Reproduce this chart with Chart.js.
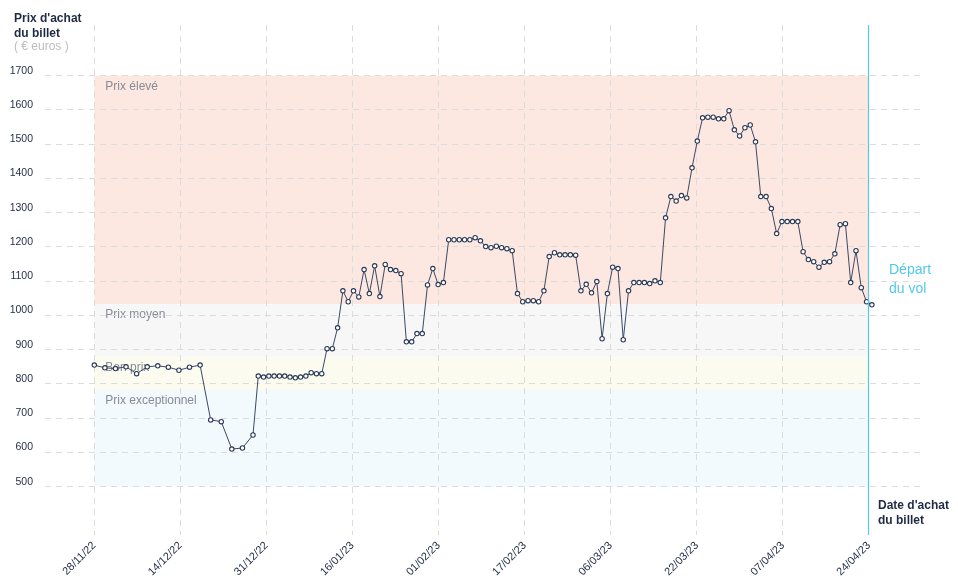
<!DOCTYPE html>
<html>
<head>
<meta charset="utf-8">
<script src="https://cdn.jsdelivr.net/npm/chart.js@4.4.1/dist/chart.umd.min.js"></script>
<style>
html,body{margin:0;padding:0;background:#fff;}
#wrap{width:958px;height:585px;position:relative;}
</style>
</head>
<body>
<div id="wrap"><canvas id="c" width="958" height="585"></canvas></div>
<script>
// ---- data ----
const purchaseDates = [
  '28/11/22','30/11/22','02/12/22','04/12/22','06/12/22','08/12/22','10/12/22','12/12/22',
  '14/12/22','16/12/22','18/12/22','20/12/22','22/12/22','24/12/22','26/12/22','28/12/22',
  '29/12/22','30/12/22','31/12/22',
  '01/01/23','02/01/23','03/01/23','04/01/23','05/01/23','06/01/23','07/01/23','08/01/23','09/01/23','10/01/23',
  '11/01/23','12/01/23','13/01/23','14/01/23','15/01/23','16/01/23','17/01/23','18/01/23','19/01/23','20/01/23',
  '21/01/23','22/01/23','23/01/23','24/01/23','25/01/23','26/01/23','27/01/23','28/01/23','29/01/23','30/01/23','31/01/23',
  '01/02/23','02/02/23','03/02/23','04/02/23','05/02/23','06/02/23','07/02/23','08/02/23','09/02/23','10/02/23',
  '11/02/23','12/02/23','13/02/23','14/02/23','15/02/23','16/02/23','17/02/23','18/02/23','19/02/23','20/02/23',
  '21/02/23','22/02/23','23/02/23','24/02/23','25/02/23','26/02/23','27/02/23','28/02/23',
  '01/03/23','02/03/23','03/03/23','04/03/23','05/03/23','06/03/23','07/03/23','08/03/23','09/03/23','10/03/23',
  '11/03/23','12/03/23','13/03/23','14/03/23','15/03/23','16/03/23','17/03/23','18/03/23','19/03/23','20/03/23',
  '21/03/23','22/03/23','23/03/23','24/03/23','25/03/23','26/03/23','27/03/23','28/03/23','29/03/23','30/03/23','31/03/23',
  '01/04/23','02/04/23','03/04/23','04/04/23','05/04/23','06/04/23','07/04/23','08/04/23','09/04/23','10/04/23',
  '11/04/23','12/04/23','13/04/23','14/04/23','15/04/23','16/04/23','17/04/23','18/04/23','19/04/23','20/04/23',
  '21/04/23','22/04/23','23/04/23','24/04/23'
];
const ticketPrices = [
  855,847,845,850,830,850,853,849,840,849,855,695,690,610,613,651,
  823,820,823,823,823,823,820,818,820,823,833,830,830,
  903,903,964,1072,1040,1072,1054,1134,1064,1145,1055,1149,1134,1131,1122,
  923,923,947,947,1089,1137,1090,1096,
  1221,1221,1221,1221,1221,1227,1218,1201,1198,1202,1198,1195,1189,
  1064,1040,1043,1043,1040,1072,1172,1183,1177,1177,1177,1176,
  1072,1091,1066,1099,932,1064,1141,1137,929,1072,1096,1096,1096,1093,1101,1096,
  1285,1347,1334,1350,1343,1431,1509,1577,1579,1579,1574,1574,1598,1542,1524,1548,1556,1507,
  1347,1347,1312,1239,1274,1274,1274,1274,1186,1163,1157,1141,1155,1157,1180,1265,1268,1096,1189,1081,1040,1031
];
const xTickLabels = ['28/11/22','14/12/22','31/12/22','16/01/23','01/02/23','17/02/23','06/03/23','22/03/23','07/04/23','24/04/23'];
const yTickValues = [500,600,700,800,900,1000,1100,1200,1300,1400,1500,1600,1700];
const bandNames = ['Prix élevé','Prix moyen','Bon prix','Prix exceptionnel'];
const bandUpper = [1700,1033,880,782];
const bandLower = [1033,880,782,500];
const departureDate = '23/04/23';
const departureHour = 11;

// ---- styles ----
const bandColors = ['#fde7e1','#f7f7f7','#fbfbf0','#f2fafd'];
const NAVY = '#1f2b44';
const CYAN = '#52c8ee';
const FONT = '"Liberation Sans", Arial, sans-serif';

function dayOffset(s, hour){
  const p = s.split('/');
  const t = Date.UTC(2000 + (+p[2]), (+p[1]) - 1, +p[0], hour || 0);
  return (t - Date.UTC(2022, 10, 28)) / 86400000;
}
const points = purchaseDates.map((d, i) => ({x: dayOffset(d), y: ticketPrices[i]}));
const depX = dayOffset(departureDate, departureHour);
const xTickPos = xTickLabels.map((_, i) => i * depX / (xTickLabels.length - 1));

const decor = {
  id: 'decor',
  beforeDraw(chart){
    const {ctx, scales:{x, y}} = chart;
    const x0 = x.getPixelForValue(0), x1 = x.getPixelForValue(depX);
    ctx.save();
    bandNames.forEach((n, i) => {
      const top = y.getPixelForValue(bandUpper[i]);
      const bot = y.getPixelForValue(bandLower[i]);
      ctx.fillStyle = bandColors[i];
      ctx.fillRect(x0, top, x1 - x0, bot - top);
    });
    ctx.font = '12px ' + FONT;
    ctx.fillStyle = '#878c96';
    ctx.textBaseline = 'middle';
    ctx.textAlign = 'left';
    bandNames.forEach((n, i) => {
      const top = y.getPixelForValue(bandUpper[i]);
      ctx.fillText(n, x0 + 11, top + 11);
    });
    ctx.restore();
  },
  afterDraw(chart){
    const {ctx, chartArea, scales:{x}} = chart;
    const px = Math.round(x.getPixelForValue(depX) - 0.5) + 0.5;
    ctx.save();
    ctx.strokeStyle = CYAN;
    ctx.lineWidth = 1.2;
    ctx.beginPath();
    ctx.moveTo(px, chartArea.top);
    ctx.lineTo(px, chartArea.bottom);
    ctx.stroke();
    ctx.textBaseline = 'middle';
    ctx.textAlign = 'left';
    ctx.font = 'bold 12px ' + FONT;
    ctx.fillStyle = NAVY;
    ctx.fillText("Prix d'achat", 14, 19);
    ctx.fillText('du billet', 14, 34);
    ctx.font = '12px ' + FONT;
    ctx.fillStyle = '#bdbdbd';
    ctx.fillText('( € euros )', 14, 47);
    ctx.font = 'bold 12px ' + FONT;
    ctx.fillStyle = NAVY;
    ctx.fillText("Date d'achat", 878, 506);
    ctx.fillText('du billet', 878, 521);
    ctx.font = '14px ' + FONT;
    ctx.fillStyle = CYAN;
    ctx.fillText('Départ', 889, 270);
    ctx.fillText('du vol', 889, 289);
    ctx.restore();
  }
};

new Chart(document.getElementById('c'), {
  type: 'line',
  data: {
    datasets: [{
      data: points,
      borderColor: '#3b4964',
      borderWidth: 1,
      tension: 0,
      pointRadius: 2.2,
      pointBorderWidth: 1.1,
      pointBackgroundColor: '#ffffff',
      pointBorderColor: '#2b3a55',
      clip: false
    }]
  },
  options: {
    responsive: false,
    animation: false,
    devicePixelRatio: 1,
    layout: {padding: {top: 25, right: 38, left: 0, bottom: 0}},
    plugins: {legend: {display: false}, tooltip: {enabled: false}},
    scales: {
      x: {
        type: 'linear',
        min: -9.32,
        max: 156.1,
        afterBuildTicks: s => { s.ticks = xTickPos.map(v => ({value: v})); },
        afterFit: s => { s.height = 50; },
        grid: {color: '#dcdcdc', lineWidth: 1, drawTicks: false},
        border: {display: false, dash: [6, 5]},
        ticks: {
          autoSkip: false,
          minRotation: 45,
          maxRotation: 45,
          padding: 4,
          color: NAVY,
          font: {family: FONT, size: 11},
          callback: (v, i) => xTickLabels[i]
        }
      },
      y: {
        type: 'linear',
        min: 359,
        max: 1848,
        afterBuildTicks: s => { s.ticks = yTickValues.map(v => ({value: v})); },
        afterFit: s => { s.width = 45; },
        grid: {color: '#dcdcdc', lineWidth: 1, drawTicks: false},
        border: {display: false, dash: [6, 5]},
        ticks: {
          padding: 12,
          labelOffset: -5,
          color: NAVY,
          font: {family: FONT, size: 10.5},
          callback: v => String(v)
        }
      }
    }
  },
  plugins: [decor]
});
</script>
</body>
</html>
